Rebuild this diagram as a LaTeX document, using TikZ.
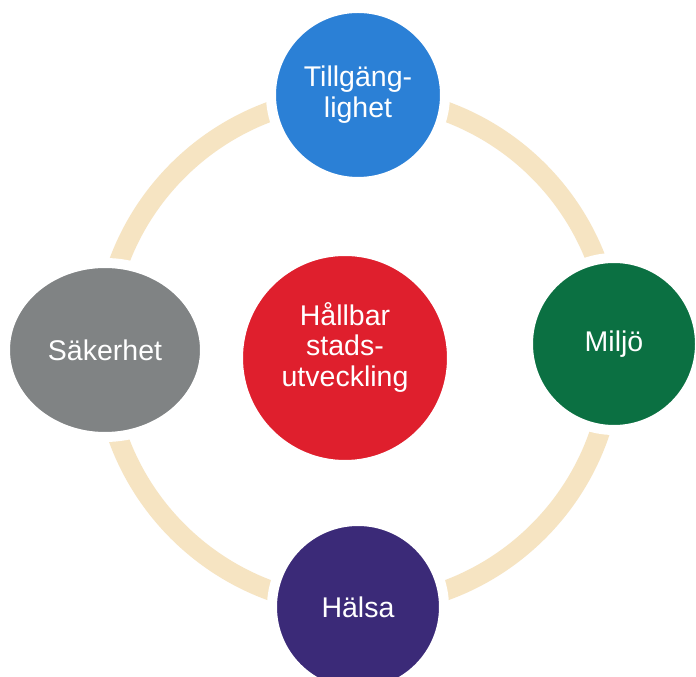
\documentclass[tikz,border=0pt]{standalone}
\usepackage{fontspec}
\setmainfont{Liberation Sans}
\usetikzlibrary{shapes.geometric}
\definecolor{ringcol}{HTML}{F6E4C2}
\definecolor{bluecol}{HTML}{2B80D6}
\definecolor{greencol}{HTML}{0B7042}
\definecolor{graycol}{HTML}{808384}
\definecolor{redcol}{HTML}{DF1F2D}
\definecolor{purplecol}{HTML}{3B2A78}
\tikzset{
  ring/.style={draw=ringcol, line width=20pt},
  bubble/.style={circle, draw=white, line width=10pt, inner sep=0pt, align=center,
    text=white, font=\fontsize{28.5}{31}\selectfont},
}
\begin{document}
\begin{tikzpicture}[x=1pt,y=1pt]
\useasboundingbox (0,0) rectangle (696,677);
\clip (0,0) rectangle (696,677);
\fill[white] (0,0) rectangle (696,677);
\coordinate (c) at (358,326);
\draw[ring] (c) circle (255);
\node[bubble, fill=bluecol, minimum size=174pt] (top) at (358,582) {Tillgäng-\\lighet};
\node[bubble, ellipse, fill=graycol, minimum width=200pt, minimum height=174pt] (left) at (105,327) {Säkerhet};
\node[bubble, fill=greencol, minimum size=172pt] (right) at (614,333) {Miljö};
\node[bubble, fill=purplecol, minimum size=172pt] (bottom) at (358,70) {Hälsa};
\node[bubble, fill=redcol, minimum size=214pt] (center) at (345,319) {};
\node[text=white, align=center, font=\fontsize{28.5}{30.5}\selectfont, inner sep=0pt] (ctext) at (345,330) {Hållbar\\stads-\\utveckling};
\end{tikzpicture}
\end{document}
